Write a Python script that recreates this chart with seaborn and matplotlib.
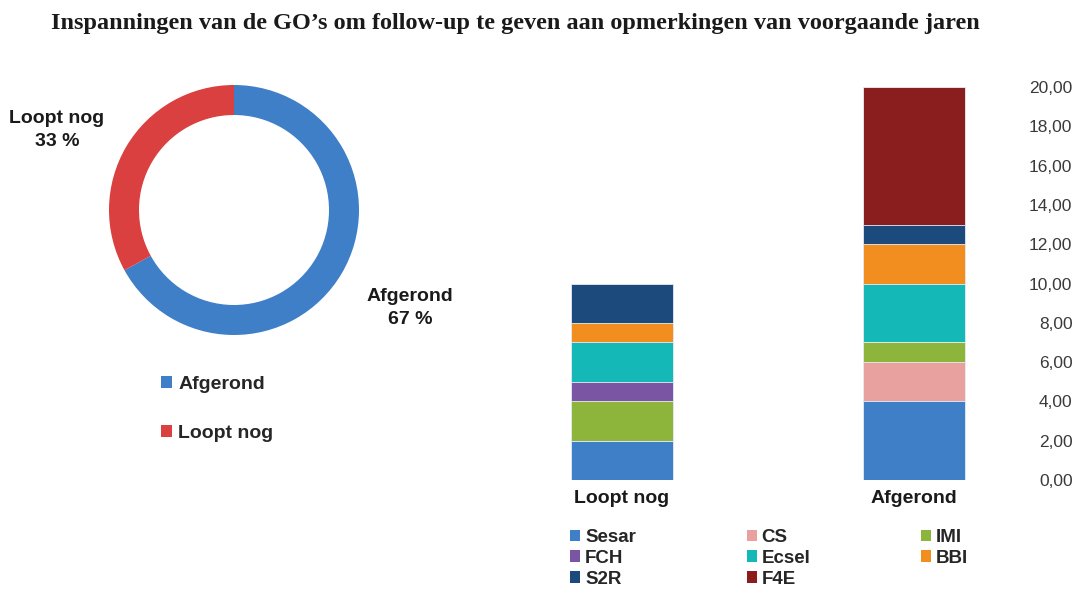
import numpy as np
import pandas as pd
import matplotlib
matplotlib.use("Agg")
import matplotlib.pyplot as plt
import seaborn as sns
from matplotlib.patches import Patch
from matplotlib.ticker import FuncFormatter

sns.set_style("white")
plt.rcParams['font.family'] = ['Liberation Sans', 'DejaVu Sans']

# ---- data ----
pie_labels = ["Afgerond", "Loopt nog"]
pie_values = [67, 33]
pie_colors = ["#3f7fc8", "#d9403f"]

bar_categories = ["Loopt nog", "Afgerond"]
series_names = ["Sesar", "CS", "IMI", "FCH", "Ecsel", "BBI", "S2R", "F4E"]
series_values = {
    "Sesar": [2, 4],
    "CS":    [0, 2],
    "IMI":   [2, 1],
    "FCH":   [1, 0],
    "Ecsel": [2, 3],
    "BBI":   [1, 2],
    "S2R":   [2, 1],
    "F4E":   [0, 7],
}
series_colors = {
    "Sesar": "#3f7fc8",
    "CS":    "#e8a19f",
    "IMI":   "#8db53c",
    "FCH":   "#7a55a3",
    "Ecsel": "#14b8b6",
    "BBI":   "#f28d1f",
    "S2R":   "#1c4a7c",
    "F4E":   "#8a1e1f",
}
y_ticks = [0, 2, 4, 6, 8, 10, 12, 14, 16, 18, 20]

W, H = 1073, 589
fig = plt.figure(figsize=(W / 100, H / 100), dpi=100)

def fx(px):
    return px / W

def fy(py):
    return 1 - py / H

# ---- title ----
fig.text(fx(515), fy(24), "Inspanningen van de GO’s om follow-up te geven aan opmerkingen van voorgaande jaren",
         ha="center", va="center", fontsize=17.5, fontweight="bold",
         family=["Liberation Serif", "DejaVu Serif"], color="#1a1a1a")

# ---- donut ----
axp = fig.add_axes([fx(104), fy(340), fx(260), 260 / H])
axp.pie(pie_values, colors=pie_colors, startangle=90, counterclock=False,
        wedgeprops=dict(width=0.24, edgecolor="none"))
axp.set_xlim(-1.04, 1.04)
axp.set_ylim(-1.04, 1.04)
axp.set_aspect("equal")

fig.text(fx(57), fy(130), "Loopt nog\n33 %", ha="center", va="center",
         fontsize=14, fontweight="bold", color="#1a1a1a", linespacing=1.5)
fig.text(fx(410), fy(308), "Afgerond\n67 %", ha="center", va="center",
         fontsize=14, fontweight="bold", color="#1a1a1a", linespacing=1.5)

pie_handles = [Patch(facecolor=c, edgecolor="none") for c in pie_colors]
fig.legend(pie_handles, pie_labels, loc="upper left",
           bbox_to_anchor=(fx(161), fy(376)), frameon=False,
           prop=dict(size=14, weight="bold"), labelspacing=1.65,
           handlelength=0.55, handleheight=0.55, handletextpad=0.35,
           borderpad=0, borderaxespad=0)

# ---- stacked bars ----
axb = fig.add_axes([fx(476), fy(480), fx(1010 - 476), (480 - 87) / H])
df = pd.DataFrame(series_values, index=bar_categories)
cum = df[series_names].cumsum(axis=1)
for name in reversed(series_names):
    d = pd.DataFrame({"cat": bar_categories, "val": cum[name].values})
    sns.barplot(data=d, x="cat", y="val", ax=axb, color=series_colors[name],
                width=0.35, saturation=1, edgecolor="#e8eef5", linewidth=0.6)
axb.set_ylim(0, 20)
axb.set_xlim(-0.5, 1.33)
axb.set_yticks(y_ticks)
axb.yaxis.set_major_formatter(FuncFormatter(lambda v, p: f"{v:.2f}".replace(".", ",")))
axb.yaxis.tick_right()
axb.tick_params(axis="y", length=0, pad=45, labelsize=12.5, labelcolor="#3a3a3a")
for t in axb.get_yticklabels():
    t.set_horizontalalignment("right")
axb.tick_params(axis="x", length=0, pad=7, labelsize=14)
for t in axb.get_xticklabels():
    t.set_fontweight("bold")
    t.set_color("#1a1a1a")
axb.set_xlabel("")
axb.set_ylabel("")
for s in axb.spines.values():
    s.set_visible(False)

order = ["Sesar", "FCH", "S2R", "CS", "Ecsel", "F4E", "IMI", "BBI"]
bar_handles = [Patch(facecolor=series_colors[n], edgecolor="none") for n in order]
fig.legend(bar_handles, order, loc="upper left", ncol=3,
           bbox_to_anchor=(fx(570), fy(529)), frameon=False,
           prop=dict(size=13.5, weight="bold"), labelspacing=0.2,
           handlelength=0.55, handleheight=0.55, handletextpad=0.25,
           columnspacing=5.9, borderpad=0, borderaxespad=0)

fig.savefig("out.png", dpi=100)
